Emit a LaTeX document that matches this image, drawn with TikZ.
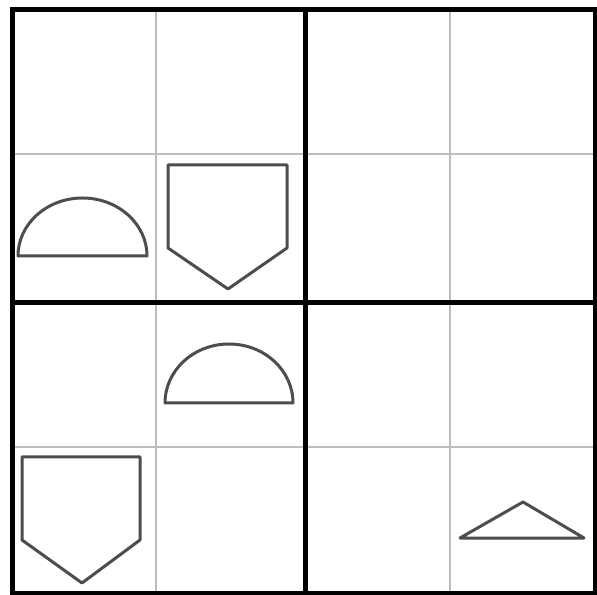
\documentclass[tikz,border=0pt]{standalone}
\usepackage{xcolor}
\usepackage{tikz}
\usetikzlibrary{calc}
\definecolor{ink}{HTML}{000000}
\definecolor{shape}{HTML}{4D4D4D}
\definecolor{line}{HTML}{BDBDBD}
\tikzset{
  thin grid/.style={line width=0.06cm,color=line},
  block/.style={line width=0.15cm,color=ink,line cap=rect},
  piece/.style={line width=0.09cm,draw=shape,fill=white,line join=round},
}
\begin{document}
\begin{tikzpicture}[x=0.03cm,y=0.03cm]
    \useasboundingbox (0,0) rectangle (597,594);
    % corners of the board
    \coordinate (sw) at (12.5,1);
    \coordinate (ne) at (595,584);
    % light lines first
    \foreach \x in {156,450} \draw[thin grid] (\x,1) -- (\x,584);
    \foreach \y in {440,147} \draw[thin grid] (12.5,\y) -- (595,\y);
    % heavy block lines
    \draw[block] (sw) rectangle (ne);
    \draw[block] (305,1) -- (305,584);
    \draw[block] (12.5,291) -- (595,291);
    % pieces
    \draw[piece] (18,338) arc[start angle=180,end angle=0,x radius=64.5,y radius=58] -- cycle;
    \draw[piece] (168,429) -- (287,429) -- (287,346) -- (228,305) -- (168,346) -- cycle;
    \draw[piece] (165,191) arc[start angle=180,end angle=0,x radius=64,y radius=59] -- cycle;
    \draw[piece] (22,137) -- (140,137) -- (140,54) -- (82,11) -- (22,54) -- cycle;
    \draw[piece] (460,56) -- (523,92) -- (584,56) -- cycle;
  \end{tikzpicture}
\end{document}
